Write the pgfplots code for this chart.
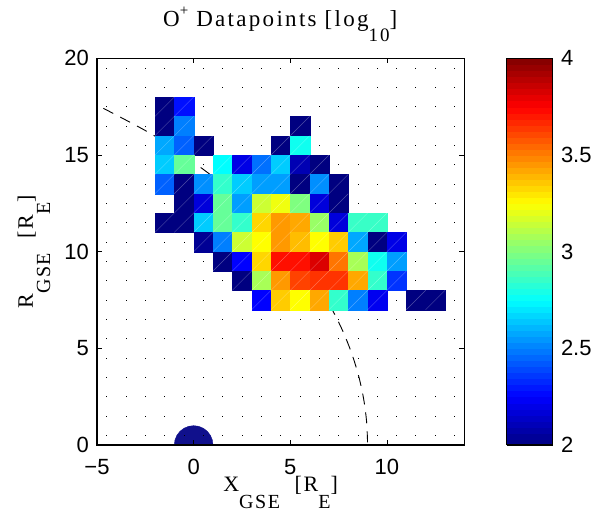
\documentclass[border=0pt]{standalone}
\usepackage{pgfplots}
\pgfplotsset{compat=1.18}
\usepackage{pgfplotstable}
\usepackage{fontspec}
\setmainfont{Liberation Serif}
\newfontfamily\sansf{Liberation Sans}
\newfontfamily\labf[LetterSpace=8]{Liberation Serif}
\newfontfamily\titf[LetterSpace=10]{Liberation Serif}
\newcommand\msub[1]{\raisebox{-0.78em}{\fontsize{20}{20}\selectfont #1}}
\definecolor{earth}{RGB}{16,16,140}
\pgfdeclareplotmark{diag}{%
  \pgfpathmoveto{\pgfqpoint{-\pgfplotmarksize}{-\pgfplotmarksize}}%
  \pgfpathlineto{\pgfqpoint{\pgfplotmarksize}{\pgfplotmarksize}}%
  \pgfusepathqstroke}

\pgfplotstableread{
x y c
-1.5 17.5 2.00
-0.5 17.5 2.28
-1.5 16.5 2.00
-0.5 16.5 2.50
5.5 16.5 2.00
-1.5 15.5 2.58
-0.5 15.5 2.44
0.5 15.5 2.00
4.5 15.5 2.00
5.5 15.5 2.78
-1.5 14.5 2.65
-0.5 14.5 2.95
1.5 14.5 2.75
2.5 14.5 2.20
3.5 14.5 2.47
4.5 14.5 2.65
5.5 14.5 2.10
6.5 14.5 2.00
-1.5 13.5 2.44
-0.5 13.5 2.00
0.5 13.5 2.53
1.5 13.5 2.85
2.5 13.5 2.65
3.5 13.5 2.56
4.5 13.5 2.56
5.5 13.5 2.00
6.5 13.5 2.53
7.5 13.5 2.00
-0.5 12.5 2.00
0.5 12.5 2.18
1.5 12.5 2.95
2.5 12.5 2.56
3.5 12.5 3.15
4.5 12.5 3.22
5.5 12.5 3.00
6.5 12.5 2.18
7.5 12.5 2.00
-1.5 11.5 2.00
-0.5 11.5 2.00
0.5 11.5 2.65
1.5 11.5 2.95
2.5 11.5 2.85
3.5 11.5 3.33
4.5 11.5 3.45
5.5 11.5 3.42
6.5 11.5 3.05
7.5 11.5 2.18
8.5 11.5 2.86
9.5 11.5 2.86
0.5 10.5 2.04
1.5 10.5 2.50
2.5 10.5 3.15
3.5 10.5 3.25
4.5 10.5 3.45
5.5 10.5 3.38
6.5 10.5 3.25
7.5 10.5 3.35
8.5 10.5 2.58
9.5 10.5 2.00
10.5 10.5 2.20
1.5 9.5 2.00
2.5 9.5 2.25
3.5 9.5 3.33
4.5 9.5 3.72
5.5 9.5 3.72
6.5 9.5 3.82
7.5 9.5 3.52
8.5 9.5 3.08
9.5 9.5 2.78
10.5 9.5 2.56
2.5 8.5 2.00
3.5 8.5 3.08
4.5 8.5 3.45
5.5 8.5 3.62
6.5 8.5 3.65
7.5 8.5 3.65
8.5 8.5 3.42
9.5 8.5 2.85
10.5 8.5 2.35
3.5 7.5 2.25
4.5 7.5 3.35
5.5 7.5 3.25
6.5 7.5 3.42
7.5 7.5 2.85
8.5 7.5 2.50
9.5 7.5 2.22
11.5 7.5 2.00
12.5 7.5 2.00
}\cells

\begin{document}
\begin{tikzpicture}
\path[use as bounding box] (-97pt,-67pt) rectangle (495pt,445pt);
\begin{axis}[
  at={(0,0)}, anchor=south west,
  x=19.33pt, y=19.33pt,
  xmin=-5, xmax=14, ymin=0, ymax=20,
  axis on top,
  colormap/jet,
  point meta min=2, point meta max=4,
  xtick={-5,0,5,10}, xticklabels={−5,0,5,10},
  ytick={0,5,10,15,20},
  minor xtick={-4.5,-3.5,...,13.5},
  xminorgrids=true,
  minor x grid style={black, line width=0.9pt, dash pattern=on 0.9pt off 18.43pt, dash phase=10.115pt},
  minor tick length=0pt,
  major tick length=5pt,
  tick align=inside,
  tick style={black, line width=0.8pt},
  axis line style={line width=1.2pt},
  /pgf/number format/assume math mode=true,
  ticklabel style={font=\sansf\fontsize{22}{22}\selectfont},
  xticklabel style={anchor=north, inner sep=0pt, yshift=-14pt},
  yticklabel style={anchor=east, inner sep=0pt, xshift=-8pt},
  xlabel={X\msub{GSE}\ \ [R\msub{E}]},
  xlabel style={font=\labf\fontsize{22}{22}\selectfont, at={(axis description cs:0.5,-0.1208)}, anchor=base, inner sep=0pt},
  ylabel={R\msub{GSE}\ \ [R\msub{E}]},
  ylabel style={font=\labf\fontsize{22}{22}\selectfont, at={(axis description cs:-0.1743,0.5)}, anchor=base, inner sep=0pt},
  colorbar,
  colorbar sampled,
  colorbar style={
    at={(parent axis.north east)}, anchor=north west, xshift=34pt,
    width=46pt,
    samples=65,
    ytick={2,2.5,3,3.5,4},
    yticklabels={2,2.5,3,3.5,4},
    major tick length=0pt,
    axis line style={line width=1.2pt},
    /pgf/number format/assume math mode=true,
    yticklabel style={font=\sansf\fontsize{22}{22}\selectfont, anchor=west, inner sep=0pt, xshift=8pt},
  },
]
\addplot[scatter, only marks, mark=square*, mark size=9.665pt,
  point meta=explicit,
  scatter/use mapped color={draw=mapped color, fill=mapped color},
  line width=0.2pt] table[x=x, y=y, meta=c]{\cells};
\addplot[only marks, mark=diag, mark size=9.665pt,
  mark options={draw=white, draw opacity=0.3, line width=0.4pt}] table[x=x, y=y]{\cells};
\addplot[fill=earth, draw=earth] coordinates {
  (1,0) (0.966,0.259) (0.866,0.5) (0.707,0.707) (0.5,0.866) (0.259,0.966) (0,1)
  (-0.259,0.966) (-0.5,0.866) (-0.707,0.707) (-0.866,0.5) (-0.966,0.259) (-1,0)} -- cycle;
\addplot[black, line width=0.9pt, dash pattern=on 11pt off 8pt, smooth] coordinates {
  (-4.667,17.415) (-2.113,16.047) (0,14.620) (1.751,13.302) (3.221,12.021)
  (4.460,10.767) (5.504,9.533) (6.380,8.315) (7.110,7.110) (7.707,5.913)
  (8.182,4.724) (8.544,3.539) (8.799,2.358) (8.950,1.178) (9.0,0)};
\end{axis}
\node[font=\titf\fontsize{23}{23}\selectfont, anchor=base west, inner sep=0pt] at (66pt,418pt)
  {O\raisebox{0.5em}{\fontsize{15}{15}\selectfont +} Datapoints [log\raisebox{-0.62em}{\fontsize{19}{19}\selectfont 10}]};
\end{tikzpicture}
\end{document}
